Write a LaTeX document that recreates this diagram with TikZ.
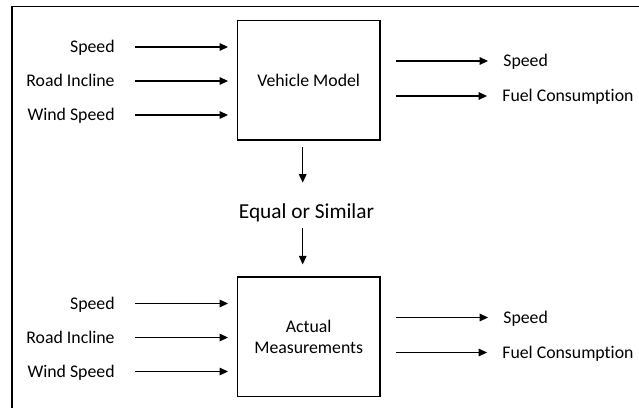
\documentclass[tikz,border=0pt]{standalone}
\usepackage{fontspec}
\setmainfont{Carlito}[Ligatures={NoCommon}]
\usetikzlibrary{arrows.meta}

\begin{document}
\begin{tikzpicture}[x=0.5625pt, y=-0.5625pt,
	lbl/.style={font=\fontsize{10}{12}\selectfont, inner sep=0pt, text height=6.4pt, text depth=0pt},
	blk/.style={draw, line width=0.85pt, minimum width=80.3pt, minimum height=67.1pt, inner sep=0pt, font=\fontsize{10}{12}\selectfont, align=center},
	arr/.style={line width=0.6pt, -{Triangle[length=4.8pt, width=4.3pt]}}]
	\useasboundingbox (0,0) rectangle (639,407);
	\clip (0,0) rectangle (639,407);
	\draw[line width=0.9pt] (11.7,420) -- (11.7,6.7) -- (650,6.7);

	\node[blk] (vm) at (308.7,80.3) {Vehicle Model};
	\node[blk] (am) at (308.7,336.7) {Actual\\Measurements};

	% inputs and outputs of the model
	\node[lbl, anchor=east] (vs) at (115,47) {Speed};
	\node[lbl, anchor=east] (vr) at (115,81) {Road Incline};
	\node[lbl, anchor=east] (vw) at (115,115) {Wind Speed};
	\draw[arr, shorten <=11.25pt, shorten >=4.8pt] (vs) -- (vm.west |- vs);
	\draw[arr, shorten <=11.25pt, shorten >=4.8pt] (vr) -- (vm.west |- vr);
	\draw[arr, shorten <=11.25pt, shorten >=4.8pt] (vw) -- (vm.west |- vw);
	\node[lbl, anchor=west] (vos) at (503,61) {Speed};
	\node[lbl, anchor=west] (vof) at (502,96) {Fuel Consumption};
	\draw[arr, shorten <=8.5pt, shorten >=8.4pt] (vm.east |- vos) -- (vos);
	\draw[arr, shorten <=8.5pt, shorten >=8.4pt] (vm.east |- vof) -- (vof);

	% inputs and outputs of the measurements
	\node[lbl, anchor=east] (as) at (115,303.5) {Speed};
	\node[lbl, anchor=east] (ar) at (115,337.5) {Road Incline};
	\node[lbl, anchor=east] (aw) at (115,371.5) {Wind Speed};
	\draw[arr, shorten <=11.25pt, shorten >=4.8pt] (as) -- (am.west |- as);
	\draw[arr, shorten <=11.25pt, shorten >=4.8pt] (ar) -- (am.west |- ar);
	\draw[arr, shorten <=11.25pt, shorten >=4.8pt] (aw) -- (am.west |- aw);
	\node[lbl, anchor=west] (aos) at (503,317.5) {Speed};
	\node[lbl, anchor=west] (aof) at (502,352.5) {Fuel Consumption};
	\draw[arr, shorten <=8.5pt, shorten >=8.4pt] (am.east |- aos) -- (aos);
	\draw[arr, shorten <=8.5pt, shorten >=8.4pt] (am.east |- aof) -- (aof);

	\coordinate (m) at (302.7,0);
	\node[font=\fontsize{12}{14}\selectfont, inner sep=0pt, text height=9pt, text depth=3pt, anchor=base] (eq) at (306.5,218) {Equal or Similar};
	\draw[arr, shorten <=3.5pt, shorten >=10.7pt] (vm.south -| m) -- (eq.north -| m);
	\draw[arr, shorten <=2.6pt, shorten >=6.7pt] (eq.south -| m) -- (am.north -| m);
\end{tikzpicture}
\end{document}
